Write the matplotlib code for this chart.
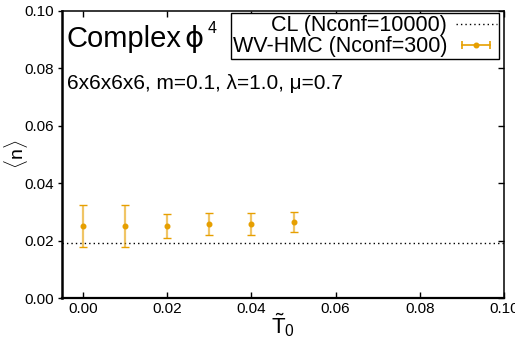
import matplotlib
matplotlib.use("Agg")
import matplotlib.pyplot as plt
from matplotlib.lines import Line2D
from matplotlib.legend_handler import HandlerLine2D, HandlerTuple
from matplotlib.ticker import FormatStrFormatter

plt.rcParams['font.family'] = ['Liberation Sans', 'DejaVu Sans']
plt.rcParams['mathtext.fontset'] = 'custom'
plt.rcParams['mathtext.rm'] = 'Liberation Sans'
plt.rcParams['mathtext.it'] = 'Liberation Sans'

# data
t0 = [0.00, 0.01, 0.02, 0.03, 0.04, 0.05]
n_wv = [0.0251, 0.0251, 0.0251, 0.0258, 0.0258, 0.0265]
n_err = [0.0073, 0.0073, 0.0042, 0.0037, 0.0037, 0.0036]
n_cl = 0.0193

orange = '#E69F00'

fig = plt.figure(figsize=(5.15, 3.47), dpi=100)
ax = fig.add_axes([62 / 515, 49 / 347, 442 / 515, 287 / 347])

ax.axhline(n_cl, color='black', lw=1.0, ls=(0, (1, 2.2)))
_, caps, bars = ax.errorbar(t0, n_wv, yerr=n_err, fmt='o', color=orange, ms=3.3,
                            ecolor=orange, elinewidth=1.6, capsize=3, capthick=1.0)
for b in bars:
    b.set_alpha(0.6)

ax.set_xlim(-0.005, 0.1)
ax.set_ylim(0, 0.1)
ax.set_xticks([0.0, 0.02, 0.04, 0.06, 0.08, 0.10])
ax.set_yticks([0.0, 0.02, 0.04, 0.06, 0.08, 0.10])
ax.xaxis.set_major_formatter(FormatStrFormatter('%.2f'))
ax.yaxis.set_major_formatter(FormatStrFormatter('%.2f'))
ax.tick_params(axis='x', direction='in', top=True, length=4, width=1, labelsize=11, pad=3)
ax.tick_params(axis='y', direction='out', length=3, width=1, labelsize=11, pad=3, right=True)
for t in ax.yaxis.get_ticklines()[1::2]:
    t.set_marker(matplotlib.lines.TICKLEFT)
    t.set_markersize(4)
for s in ax.spines.values():
    s.set_linewidth(1.1)
ax.spines['left'].set_linewidth(1.8)
ax.spines['bottom'].set_linewidth(1.6)

ax.set_xlabel(r'$\mathregular{\tilde{T}_0}$', fontsize=16, va='top')
ax.xaxis.set_label_coords(0.5, -0.045)
ax.set_ylabel(r'$\langle n\rangle$', fontsize=14, va='bottom')
ax.yaxis.set_label_coords(-0.072, 0.5)

t1 = ax.text(0.011, 0.8746, 'Complex', transform=ax.transAxes,
             fontsize=21, ha='left', va='baseline')
t2 = ax.annotate('\u03d5', xy=(1, 0), xycoords=t1, xytext=(2, 0),
                 textcoords='offset points', fontsize=21, family='DejaVu Sans',
                 ha='left', va='bottom')
ax.annotate('4', xy=(1, 1), xycoords=t2, xytext=(3, 3),
            textcoords='offset points', fontsize=11.5, ha='left', va='top')
ax.text(0.011, 0.728, '6x6x6x6, m=0.1, λ=1.0, μ=0.7', transform=ax.transAxes,
        fontsize=15, ha='left', va='baseline')

# legend, gnuplot style (text then sample)
h_cl = Line2D([], [], color='black', lw=1.0, ls=(0, (1, 2.2)))
h_bar = Line2D([], [], color=orange, lw=1.2, marker='|', ms=6, mew=1.2)
h_dot = Line2D([], [], color=orange, ls='none', marker='o', ms=3.3)
leg = ax.legend([h_cl, (h_bar, h_dot)],
                ['CL (Nconf=10000)', 'WV-HMC (Nconf=300)'],
                handler_map={h_bar: HandlerLine2D(numpoints=2),
                             h_dot: HandlerLine2D(numpoints=1),
                             tuple: HandlerTuple(ndivide=1, pad=0)},
                markerfirst=False, loc='upper right', bbox_to_anchor=(0.9887, 0.993),
                fontsize=15.5, frameon=True, fancybox=False, edgecolor='black',
                framealpha=1, handlelength=1.9, handletextpad=0.4,
                borderpad=0.1, labelspacing=0.0, borderaxespad=0)
leg.get_frame().set_linewidth(1.0)

fig.savefig('out.png', dpi=100)
